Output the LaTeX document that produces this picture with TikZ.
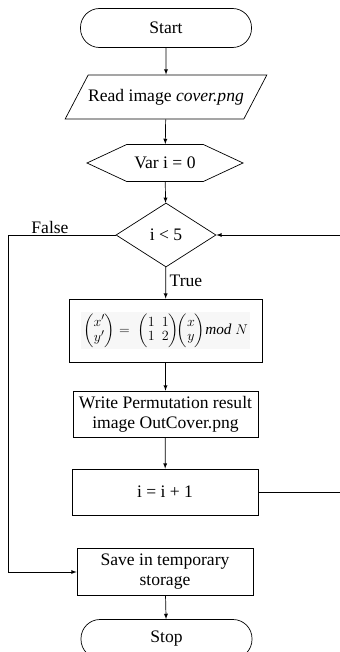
\documentclass[tikz,border=0pt]{standalone}
\usepackage{amsmath}
\usepackage{fontspec}
\setmainfont{Liberation Serif}
\usetikzlibrary{shapes.geometric,shapes.symbols}

\begin{document}
\begin{tikzpicture}[x=0.03cm,y=-0.03cm,line width=0.6pt,
    font=\fontsize{15}{17}\selectfont,
    terminal/.style={draw,rectangle,rounded corners=0.57cm,minimum width=5.13cm,minimum height=1.17cm},
    inout/.style={draw,trapezium,trapezium left angle=46,trapezium right angle=134,
        trapezium stretches body,minimum width=4.95cm,minimum height=1.32cm,inner xsep=0pt},
    prep/.style={draw,signal,signal to=east and west,signal pointer angle=50,
        minimum width=4.68cm,minimum height=1.11cm},
    decision/.style={draw,diamond,minimum width=3cm,minimum height=1.92cm,inner sep=0pt},
    process/.style={draw,rectangle,align=center}]
    \useasboundingbox (0,0) rectangle (339,652);

    \node[terminal] (start) at (166,28) {Start};
    \node[inout] (read) at (166,97) {Read image \textit{cover.png}};
    \node[prep] (var) at (165,163) {Var i = 0};
    \node[decision] (dec) at (166,235) {i < 5};
    \node[process,minimum width=5.79cm,minimum height=1.89cm,inner xsep=0pt] (perm) at (165.5,330.5)
        {\fontsize{13}{15}\selectfont\setlength{\fboxsep}{1.5pt}\renewcommand{\arraystretch}{0.85}\setlength{\arraycolsep}{3pt}%
        \colorbox{gray!6}{$\biggl(\begin{matrix}x'\\y'\end{matrix}\biggr)=\;\biggl(\begin{matrix}1&1\\1&2\end{matrix}\biggr)\!\biggl(\begin{matrix}x\\y\end{matrix}\biggr)\mathit{mod}\ N$}};
    \node[process,minimum width=5.55cm,minimum height=1.38cm] (write) at (165.5,414) {Write Permutation result\\image OutCover.png};
    \node[process,minimum width=5.58cm,minimum height=1.38cm] (inc) at (165,492) {i = i + 1};
    \node[process,minimum width=5.28cm,minimum height=1.41cm] (save) at (165,572) {Save in temporary\\storage};
    \node[terminal] (stop) at (166.5,639) {Stop};

    \node (lblfalse) at (50,227) {False};
    \node (lbltrue) at (186,281) {True};

    \draw[-latex] (start) -- (read);
    \draw[-latex] (read) -- (var);
    \draw[-latex] (var) -- (dec);
    \draw[-latex] (dec) -- (perm);
    \draw[-latex] (perm) -- (write);
    \draw[-latex] (write) -- (inc);
    \draw[-latex] (save) -- (stop);
    \draw[-latex] (dec.west) -- (8,235) -- (8,572) -- (save.west);
    \draw[-latex] (inc.east) -- (345,492) -- (345,235) -- (dec.east);
\end{tikzpicture}
\end{document}
